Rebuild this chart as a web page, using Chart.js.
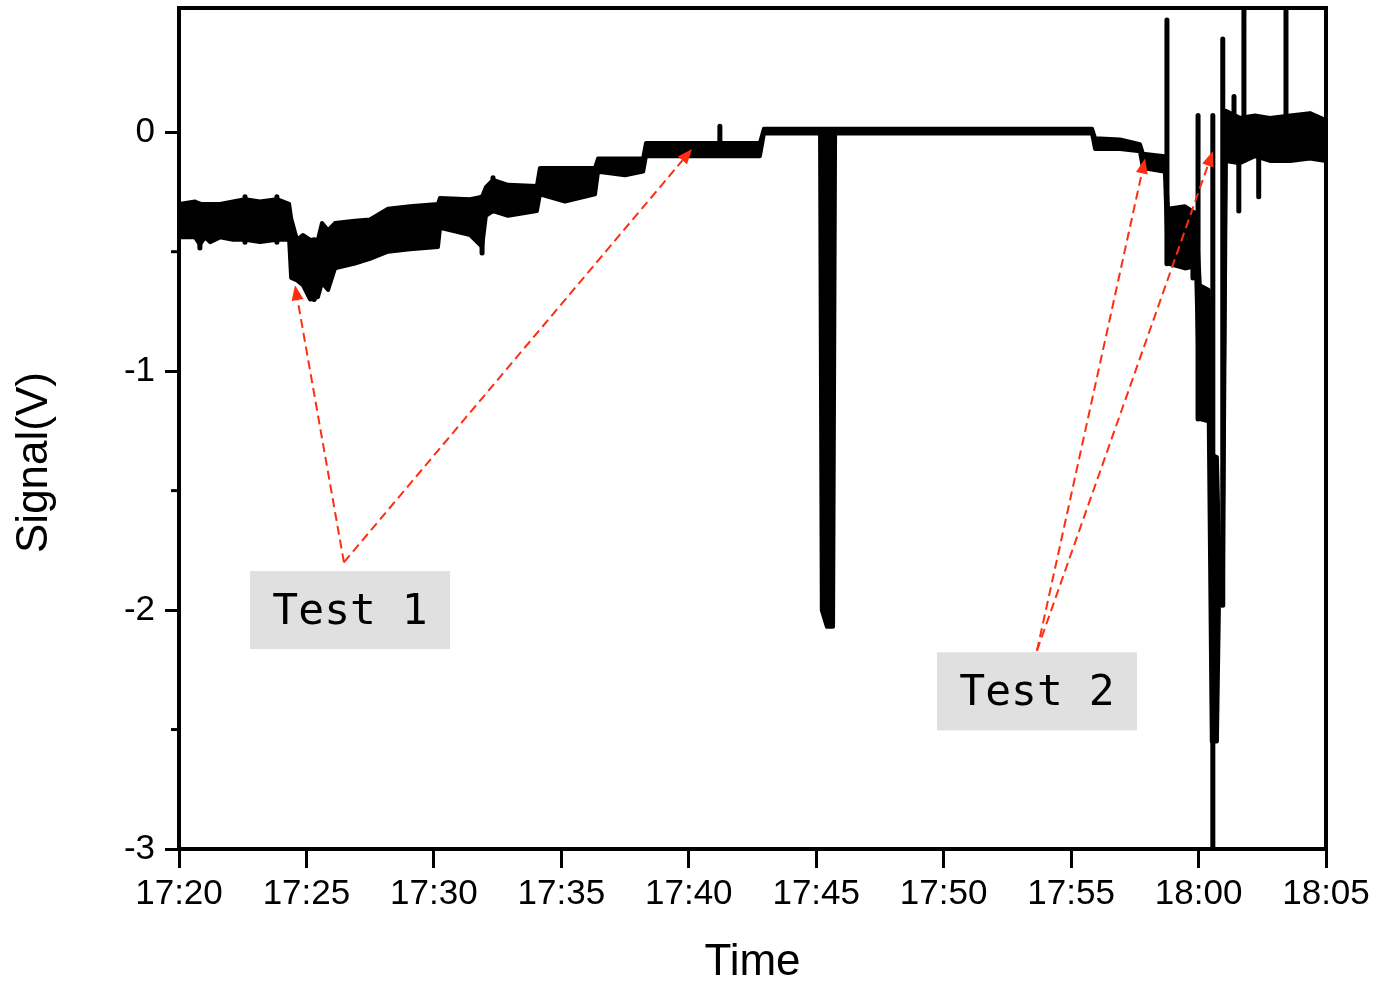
<!DOCTYPE html>
<html>
<head>
<meta charset="utf-8">
<script src="https://cdn.jsdelivr.net/npm/chart.js@4.4.1/dist/chart.umd.min.js"></script>
<style>
  html, body { margin: 0; padding: 0; background: #fff; }
  #wrap { width: 1377px; height: 985px; position: relative; }
</style>
</head>
<body>
<div id="wrap"><canvas id="c"></canvas></div>
<script>
// Signal trace, time in minutes after 17:20.
// The noisy trace is kept as its upper and lower envelope, sampled at bandTimes.
const bandTimes = [0.00, 0.63, 0.82, 1.02, 1.22, 1.61, 2.12, 2.59, 3.18, 3.84, 4.32,
  4.40, 4.63, 4.86, 5.14, 5.45, 5.61, 5.85, 6.12, 6.90, 7.49, 8.20, 9.06, 10.16,
  10.24, 11.42, 11.89, 12.04, 12.32, 12.91, 14.04, 14.16, 15.14, 16.32, 16.44,
  17.50, 18.21, 18.32, 22.79, 22.95, 25.15, 25.22, 25.42, 25.66, 25.74, 35.82,
  35.94, 36.92, 37.70, 37.82, 38.68, 38.80, 39.47, 39.90, 40.05, 40.40, 40.52,
  40.72, 40.80, 40.95, 41.07, 41.62, 42.21, 42.80, 43.59, 44.37, 45.00];
const bandUpper = [-0.30, -0.29, -0.30, -0.30, -0.30, -0.30, -0.29, -0.28, -0.29, -0.28, -0.30,
  -0.36, -0.45, -0.43, -0.45, -0.45, -0.38, -0.41, -0.38, -0.37, -0.365, -0.32, -0.31, -0.30,
  -0.275, -0.28, -0.27, -0.23, -0.20, -0.22, -0.225, -0.15, -0.15, -0.15, -0.11,
  -0.11, -0.11, -0.045, -0.045, 0.015, 0.015, 0.015, 0.015, 0.015, 0.015, 0.015,
  -0.025, -0.03, -0.05, -0.09, -0.10, -0.32, -0.31, -0.34, -0.64, -0.66, -1.35,
  -1.36, -1.73, -1.73, 0.09, 0.06, 0.07, 0.06, 0.07, 0.08, 0.05];
const bandLower = [-0.44, -0.44, -0.47, -0.44, -0.46, -0.44, -0.45, -0.45, -0.46, -0.45, -0.45,
  -0.61, -0.62, -0.64, -0.70, -0.69, -0.63, -0.66, -0.57, -0.55, -0.53, -0.50, -0.49, -0.48,
  -0.40, -0.43, -0.48, -0.35, -0.33, -0.35, -0.33, -0.26, -0.29, -0.26, -0.165,
  -0.18, -0.165, -0.10, -0.10, -0.005, -0.005, -2.00, -2.07, -2.07, -0.005, -0.005,
  -0.07, -0.07, -0.08, -0.15, -0.165, -0.55, -0.57, -0.56, -1.20, -1.21, -2.55,
  -2.55, -1.98, -1.98, -0.12, -0.13, -0.10, -0.12, -0.12, -0.11, -0.12];

// Single sharp excursions of the trace
const spikeTimes  = [0.82, 2.59, 3.84, 5.30, 11.89, 12.32, 21.22, 38.76, 39.78, 39.98, 40.56, 40.95, 41.39, 41.58, 41.78, 42.36, 43.43];
const spikeTop    = [-0.30, -0.27, -0.27, -0.45, -0.27, -0.19, 0.025, 0.47, -0.35, 0.07, 0.07, 0.39, 0.15, 0.05, 0.60, 0.05, 0.60];
const spikeBottom = [-0.485, -0.46, -0.46, -0.70, -0.505, -0.33, -0.08, -0.55, -0.61, -1.20, -3.00, -1.98, -0.05, -0.33, 0.00, -0.27, 0.00];

// Axes
const xTickValues = [0, 5, 10, 15, 20, 25, 30, 35, 40, 45];
const xTickLabels = ['17:20', '17:25', '17:30', '17:35', '17:40', '17:45', '17:50', '17:55', '18:00', '18:05'];
const yTickValues = [-3, -2, -1, 0];
const yTickLabels = ['-3', '-2', '-1', '0'];
const yMinorTicks = [-2.5, -1.5, -0.5];
const xTitle = 'Time';
const yTitle = 'Signal(V)';

// Callouts: box centre, arrow start and arrow targets, all in (minutes, volts)
const notes = [
  { text: 'Test 1', t: 6.71, v: -2.0, from: [6.47, -1.80], to: [[4.55, -0.64], [20.13, -0.07]] },
  { text: 'Test 2', t: 33.66, v: -2.34, from: [33.66, -2.17], to: [[37.90, -0.11], [40.56, -0.08]] }
];

const upperData = bandTimes.map((t, i) => ({ x: t, y: bandUpper[i] }));
const lowerData = bandTimes.map((t, i) => ({ x: t, y: bandLower[i] }));
const spikeData = [];
spikeTimes.forEach((t, i) => {
  spikeData.push({ x: t, y: spikeTop[i] });
  spikeData.push({ x: t, y: spikeBottom[i] });
  spikeData.push({ x: t, y: null });
});

const RED = '#ff2d12';
const FONT = '"Liberation Sans", Arial, sans-serif';

const calloutPlugin = {
  id: 'callouts',
  afterDatasetsDraw(chart) {
    const { ctx, scales: { x, y } } = chart;
    ctx.save();
    notes.forEach(n => {
      const ox = x.getPixelForValue(n.from[0]);
      const oy = y.getPixelForValue(n.from[1]);
      n.to.forEach(([tt, vv]) => {
        const tx = x.getPixelForValue(tt);
        const ty = y.getPixelForValue(vv);
        const ang = Math.atan2(ty - oy, tx - ox);
        const headLen = 15, headW = 6;
        const bx = tx - headLen * Math.cos(ang);
        const by = ty - headLen * Math.sin(ang);
        ctx.strokeStyle = RED;
        ctx.fillStyle = RED;
        ctx.lineWidth = 2;
        ctx.setLineDash([9, 5]);
        ctx.beginPath();
        ctx.moveTo(ox, oy);
        ctx.lineTo(bx, by);
        ctx.stroke();
        ctx.setLineDash([]);
        ctx.beginPath();
        ctx.moveTo(tx, ty);
        ctx.lineTo(bx + headW * Math.sin(ang), by - headW * Math.cos(ang));
        ctx.lineTo(bx - headW * Math.sin(ang), by + headW * Math.cos(ang));
        ctx.closePath();
        ctx.fill();
      });
      const cx = x.getPixelForValue(n.t);
      const cy = y.getPixelForValue(n.v);
      ctx.fillStyle = '#e0e0e0';
      ctx.fillRect(cx - 100, cy - 39, 200, 78);
      ctx.fillStyle = '#000';
      ctx.font = '43px "DejaVu Sans Mono"';
      ctx.textAlign = 'center';
      ctx.textBaseline = 'middle';
      ctx.fillText(n.text, cx, cy + 3);
    });
    ctx.restore();
  }
};

// Box frame, minor ticks on the left axis, and the two axis titles
const framePlugin = {
  id: 'frame',
  afterDraw(chart) {
    const { ctx, chartArea: a, scales: { y } } = chart;
    ctx.save();
    ctx.strokeStyle = '#000';
    ctx.lineWidth = 4;
    ctx.strokeRect(a.left, a.top, a.right - a.left, a.bottom - a.top);
    ctx.lineWidth = 3;
    yMinorTicks.forEach(v => {
      const py = y.getPixelForValue(v);
      ctx.beginPath();
      ctx.moveTo(a.left - 8, py);
      ctx.lineTo(a.left, py);
      ctx.stroke();
    });
    ctx.fillStyle = '#000';
    ctx.textAlign = 'center';
    ctx.textBaseline = 'middle';
    ctx.font = '44px ' + FONT;
    ctx.fillText(xTitle, (a.left + a.right) / 2, a.bottom + 114);
    ctx.translate(a.left - 144, (a.top + a.bottom) / 2 + 34);
    ctx.rotate(-Math.PI / 2);
    ctx.fillText(yTitle, 0, 0);
    ctx.restore();
  }
};

Chart.defaults.font.family = FONT;
Chart.defaults.color = '#000';

new Chart(document.getElementById('c'), {
  type: 'line',
  data: {
    datasets: [
      { data: upperData, borderColor: '#000', backgroundColor: '#000', borderWidth: 4,
        pointRadius: 0, tension: 0, fill: '+1', borderCapStyle: 'round', borderJoinStyle: 'round' },
      { data: lowerData, borderColor: '#000', borderWidth: 4,
        pointRadius: 0, tension: 0, fill: false, borderCapStyle: 'round', borderJoinStyle: 'round' },
      { data: spikeData, borderColor: '#000', borderWidth: 5, spanGaps: false,
        pointRadius: 0, tension: 0, fill: false, borderCapStyle: 'round' }
    ]
  },
  options: {
    responsive: true,
    maintainAspectRatio: false,
    animation: false,
    layout: { padding: { left: 0, right: 51, top: 8, bottom: 0 } },
    plugins: { legend: { display: false }, tooltip: { enabled: false } },
    scales: {
      x: {
        type: 'linear',
        min: 0, max: 45,
        afterBuildTicks: s => { s.ticks = xTickValues.map(v => ({ value: v })); },
        afterFit: s => { s.height = 136; },
        ticks: {
          callback: (v, i) => xTickLabels[i],
          font: { size: 35 },
          padding: 5,
          maxRotation: 0,
          autoSkip: false
        },
        grid: { display: true, drawOnChartArea: false, drawTicks: true, tickLength: 19, tickWidth: 3, tickColor: '#000' },
        border: { display: false }
      },
      y: {
        type: 'linear',
        min: -3, max: 0.52,
        afterBuildTicks: s => { s.ticks = yTickValues.map(v => ({ value: v })); },
        afterFit: s => { s.width = 179; s.paddingTop = 0; s.paddingBottom = 0; },
        ticks: {
          callback: (v, i) => yTickLabels[i],
          font: { size: 35 },
          padding: 10
        },
        grid: { display: true, drawOnChartArea: false, drawTicks: true, tickLength: 14, tickWidth: 3, tickColor: '#000' },
        border: { display: false }
      }
    }
  },
  plugins: [calloutPlugin, framePlugin]
});
</script>
</body>
</html>
